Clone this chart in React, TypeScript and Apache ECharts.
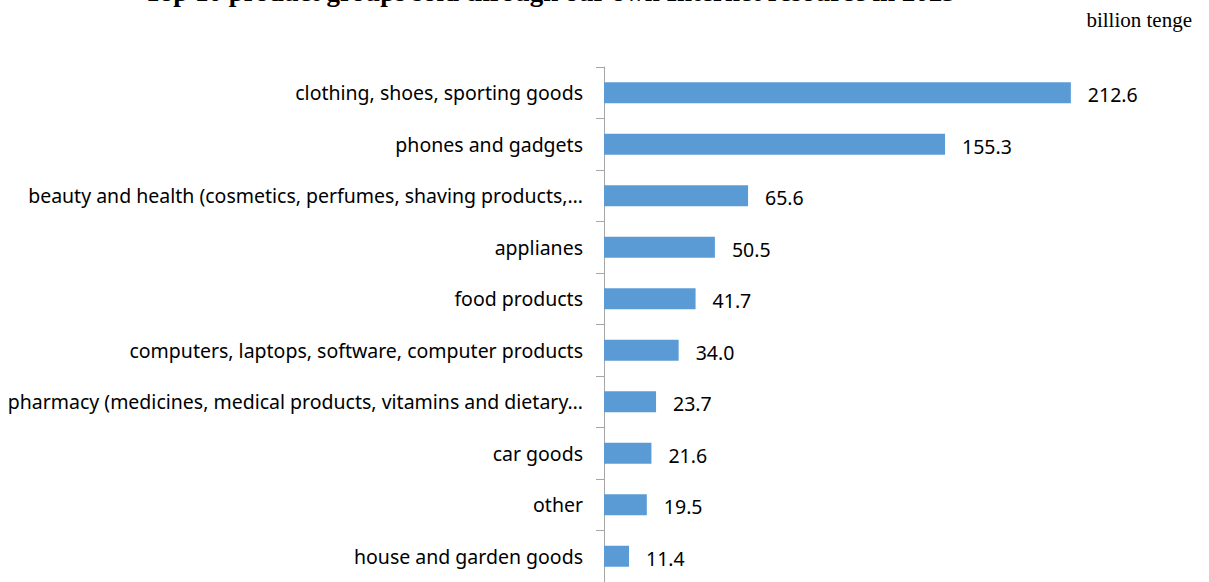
import React, { useEffect, useRef } from "react";
import * as echarts from "echarts";

const categories = [
  "clothing, shoes, sporting goods",
  "phones and gadgets",
  "beauty and health (cosmetics, perfumes, shaving products,…",
  "applianes",
  "food products",
  "computers, laptops, software, computer products",
  "pharmacy (medicines, medical products, vitamins and dietary…",
  "car goods",
  "other",
  "house and garden goods",
];
const values = [212.6, 155.3, 65.6, 50.5, 41.7, 34.0, 23.7, 21.6, 19.5, 11.4];
const titleText = "Top 10 product groups sold through our own Internet resource in 2023";
const unitText = "billion tenge";

export default function App() {
  const ref = useRef<HTMLDivElement>(null);
  useEffect(() => {
    const chart = echarts.init(ref.current!, null, { renderer: "svg" });
    const font = "'Noto Sans', sans-serif";
    chart.setOption({
      animation: false,
      graphic: [
        {
          type: "text",
          x: 550,
          y: -8,
          style: {
            text: titleText,
            font: "bold 27px 'Liberation Serif', serif",
            fill: "#000",
            textAlign: "center",
            textVerticalAlign: "middle",
          },
        },
        {
          type: "text",
          x: 1192,
          y: 20,
          style: {
            text: unitText,
            font: "21px 'Liberation Serif', serif",
            fill: "#000",
            textAlign: "right",
            textVerticalAlign: "middle",
          },
        },
      ],
      grid: { left: 604, top: 67, width: 549, height: 520 },
      xAxis: {
        type: "value",
        min: 0,
        max: 250,
        show: false,
      },
      yAxis: {
        type: "category",
        data: categories,
        inverse: true,
        axisLine: { show: true, lineStyle: { color: "#a6a6a6", width: 1 } },
        axisTick: { show: true, length: 8, lineStyle: { color: "#a6a6a6" } },
        axisLabel: {
          margin: 21,
          color: "#000",
          fontFamily: font,
          fontSize: 19.5,
        },
      },
      series: [
        {
          type: "bar",
          data: values,
          barWidth: 21,
          itemStyle: { color: "#5b9bd5" },
          label: {
            show: true,
            position: "right",
            distance: 17,
            offset: [0, 2],
            color: "#000",
            fontFamily: font,
            fontSize: 19.5,
            formatter: (p: any) => p.value.toFixed(1),
          },
        },
      ],
    });
    return () => chart.dispose();
  }, []);
  return (
    <div
      ref={ref}
      style={{ position: "fixed", left: 0, top: 0, width: 1209, height: 582, background: "#fff" }}
    />
  );
}
